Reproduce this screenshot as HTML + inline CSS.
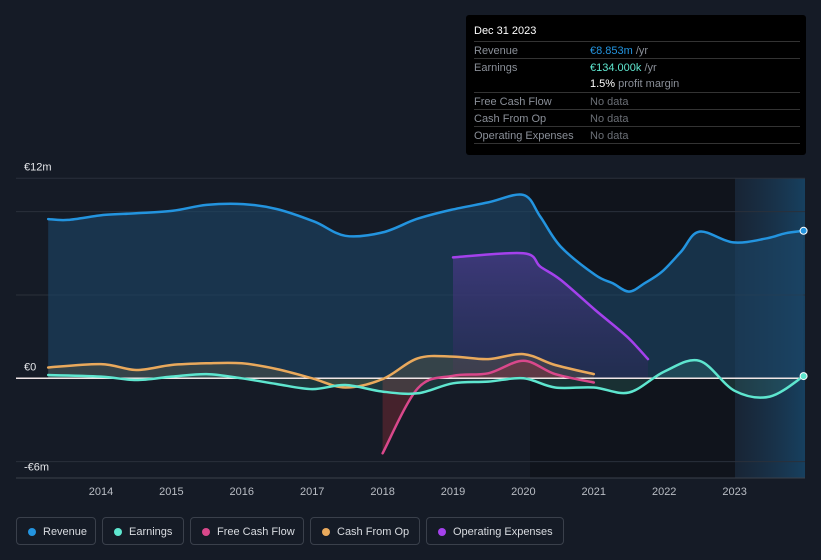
<!DOCTYPE html>
<html><head><meta charset="utf-8"><style>
body{margin:0;background:#151b26;font-family:"Liberation Sans",sans-serif;}
#wrap{position:relative;width:821px;height:560px;overflow:hidden;background:#151b26;}
.tip{position:absolute;left:466px;top:15px;width:340px;height:140px;background:#000;border-radius:3px;color:#fff;font-size:11px;}
.tip .row{position:absolute;left:8px;right:6px;height:17px;border-top:1px solid #333;}
.tip .k{position:absolute;left:0;top:3px;color:#8a8f98;}
.tip .v{position:absolute;left:116px;top:3px;color:#6b6f76;}
.legend{position:absolute;top:517px;height:28px;border:1px solid #3a404b;border-radius:4px;color:#d8dbe0;font-size:11px;line-height:28px;padding-left:26px;box-sizing:border-box;}
.legend i{position:absolute;left:11px;top:10px;width:8px;height:8px;border-radius:50%;}
</style></head><body>
<div id="wrap">
<svg id="chart" width="821" height="560" style="position:absolute;left:0;top:0"></svg>
<div class="tip">
 <div style="position:absolute;left:8px;top:10px;font-size:11px;color:#fff">Dec 31 2023</div>
 <div class="row" style="top:26px"><span class="k">Revenue</span><span class="v" style="color:#2394df"><b style="font-weight:normal">€8.853m</b> <span style="color:#8a8f98">/yr</span></span></div>
 <div class="row" style="top:43px"><span class="k">Earnings</span><span class="v" style="color:#5ee6cf">€134.000k <span style="color:#8a8f98">/yr</span></span></div>
 <div class="row" style="top:60px;border-top:none"><span class="v" style="color:#fff">1.5% <span style="color:#8a8f98">profit margin</span></span></div>
 <div class="row" style="top:77px"><span class="k">Free Cash Flow</span><span class="v">No data</span></div>
 <div class="row" style="top:94px"><span class="k">Cash From Op</span><span class="v">No data</span></div>
 <div class="row" style="top:111px"><span class="k">Operating Expenses</span><span class="v">No data</span></div>
 <div class="row" style="top:128px;height:0"></div>
</div>
<div class="legend" style="left:16px;width:80px"><i style="background:#2394df"></i>Revenue</div>
<div class="legend" style="left:102px;width:82px"><i style="background:#5ee6cf"></i>Earnings</div>
<div class="legend" style="left:190px;width:114px"><i style="background:#d9488b"></i>Free Cash Flow</div>
<div class="legend" style="left:310px;width:110px"><i style="background:#e9a95c"></i>Cash From Op</div>
<div class="legend" style="left:426px;width:138px"><i style="background:#a441ec"></i>Operating Expenses</div>
</div>
<script>
const revT=[2013.25,2013.53,2014.05,2014.5,2015.02,2015.5,2016.02,2016.5,2017.03,2017.47,2018,2018.48,2018.97,2019.5,2020,2020.24,2020.53,2021.02,2021.27,2021.5,2021.72,2021.97,2022.24,2022.5,2022.98,2023.46,2023.72,2023.98];
const revV=[9.55,9.5,9.8,9.9,10.05,10.4,10.45,10.15,9.4,8.55,8.75,9.55,10.1,10.55,11.0,9.7,7.9,6.2,5.7,5.2,5.7,6.4,7.6,8.8,8.15,8.4,8.7,8.85];
const earnT=[2013.25,2014,2014.5,2015,2015.5,2016,2016.5,2017,2017.47,2018,2018.5,2019,2019.5,2020,2020.45,2021,2021.5,2022,2022.5,2023,2023.5,2023.98];
const earnV=[0.2,0.1,-0.1,0.1,0.25,0,-0.35,-0.65,-0.4,-0.8,-0.9,-0.3,-0.2,0,-0.55,-0.55,-0.85,0.4,1.05,-0.75,-1.1,0.134];
const fcfT=[2018,2018.5,2019,2019.5,2020,2020.45,2021];
const fcfV=[-4.5,-0.6,0.15,0.3,1.05,0.25,-0.25];
const cfoT=[2013.25,2014,2014.5,2015,2015.5,2016,2016.5,2017,2017.47,2018,2018.5,2019,2019.5,2020,2020.45,2021];
const cfoV=[0.65,0.85,0.5,0.8,0.9,0.9,0.55,0,-0.55,-0.05,1.2,1.3,1.15,1.45,0.8,0.25];
const opxT=[2019,2020,2020.24,2020.53,2021.02,2021.47,2021.77];
const opxV=[7.25,7.5,6.7,5.9,4.1,2.5,1.15];
const yearTicks=[2014,2015,2016,2017,2018,2019,2020,2021,2022,2023];
const yLabels=[{v:12,t:"€12m"},{v:0,t:"€0"},{v:-6,t:"-€6m"}];
const gridVals=[12,10,5,-5];

const X=t=>101+(t-2014)*70.4;
const Y=v=>378.3-v*16.67;
const NS="http://www.w3.org/2000/svg";
const svg=document.getElementById('chart');
function mk(tag,attrs,parent){const e=document.createElementNS(NS,tag);for(const k in attrs)e.setAttribute(k,attrs[k]);(parent||svg).appendChild(e);return e;}
const defs=mk('defs',{});
defs.innerHTML='<linearGradient id="fc" x1="0" x2="1"><stop offset="0" stop-color="#1a2b3f" stop-opacity="0.6"/><stop offset="1" stop-color="#17405f"/></linearGradient><linearGradient id="opg" x1="0" y1="0" x2="0" y2="1"><stop offset="0" stop-color="#4a3a8a" stop-opacity="0.8"/><stop offset="1" stop-color="#2a2a55" stop-opacity="0.6"/></linearGradient>';
let r=mk('rect',{x:530,y:178,width:205,height:300,fill:'#10141c'});

r=mk('rect',{x:735,y:178,width:70,height:300,fill:'url(#fc)'});

gridVals.forEach(v=>{const l=mk('line',{x1:16,x2:805,y1:Y(v),y2:Y(v),stroke:'#2a303b','stroke-width':1});
});
let ax=mk('line',{x1:16,x2:805,y1:478,y2:478,stroke:'#3a404b'});

yLabels.forEach(o=>{const t=mk('text',{x:24,y:Y(o.v)-8,fill:'#e6e8eb','font-size':11,'font-family':'Liberation Sans'});t.textContent=o.t;
});
yearTicks.forEach(y=>{const t=mk('text',{x:X(y),y:495,fill:'#b8bcc3','font-size':11,'text-anchor':'middle','font-family':'Liberation Sans'});t.textContent=y;
});
function smooth(T,V){const p=T.map((t,i)=>[X(t),Y(V[i])]);let d='M'+p[0][0].toFixed(1)+','+p[0][1].toFixed(1);
for(let i=0;i<p.length-1;i++){const p0=p[i-1]||p[i],p1=p[i],p2=p[i+1],p3=p[i+2]||p2;
const c1=[p1[0]+(p2[0]-p0[0])/6,p1[1]+(p2[1]-p0[1])/6],c2=[p2[0]-(p3[0]-p1[0])/6,p2[1]-(p3[1]-p1[1])/6];
d+=' C'+c1.map(n=>n.toFixed(1))+' '+c2.map(n=>n.toFixed(1))+' '+p2[0].toFixed(1)+','+p2[1].toFixed(1);}return d;}
function area(T,V,fill,op,name){const d=smooth(T,V)+' L'+X(T[T.length-1])+','+Y(0)+' L'+X(T[0])+','+Y(0)+'Z';
const e=mk('path',{d:d,fill:fill,'fill-opacity':op});}
function line(T,V,col,name,w){const e=mk('path',{d:smooth(T,V),fill:'none',stroke:col,'stroke-width':w||2.5,'stroke-linejoin':'round','stroke-linecap':'round'});
}
area(revT,revV,'#1d4668',0.6,'revenue-area');
area(opxT,opxV,'url(#opg)',0.9,'opex-area');
area(cfoT,cfoV,'#8a7040',0.25,'cfo-area');
area(fcfT,fcfV,'#a0303a',0.35,'fcf-area');
area(earnT,earnV,'#3fa090',0.2,'earnings-area');
let z=mk('line',{x1:16,x2:805,y1:Y(0),y2:Y(0),stroke:'#f0e6e6','stroke-width':1.5});

line(revT,revV,'#2394df','revenue-line');
line(opxT,opxV,'#a441ec','opex-line');
line(cfoT,cfoV,'#e9a95c','cfo-line');
line(fcfT,fcfV,'#d9488b','fcf-line');
line(earnT,earnV,'#5ee6cf','earnings-line');
let c=mk('circle',{cx:X(revT[revT.length-1]),cy:Y(revV[revV.length-1]),r:3.5,fill:'#2394df',stroke:'#fff','stroke-width':1});

c=mk('circle',{cx:X(earnT[earnT.length-1]),cy:Y(earnV[earnV.length-1]),r:3.5,fill:'#5ee6cf',stroke:'#fff','stroke-width':1});

</script>
</body></html>
